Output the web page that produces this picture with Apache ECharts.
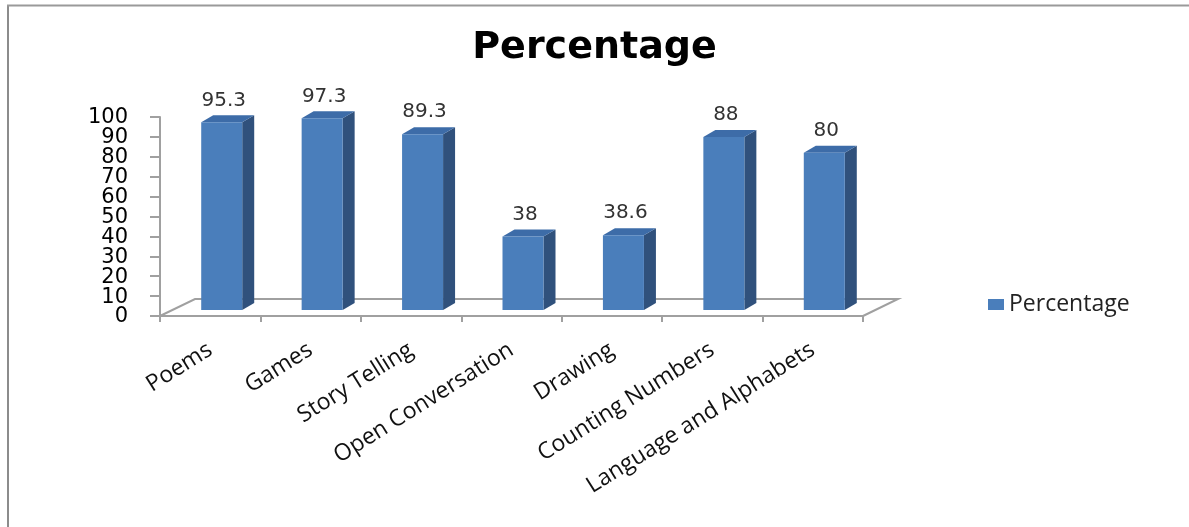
<!DOCTYPE html>
<html>
<head>
<meta charset="utf-8">
<script src="https://cdn.jsdelivr.net/npm/echarts@6/dist/echarts.min.js"></script>
<style>
  html, body { margin: 0; padding: 0; background: #fff; }
  #chart { width: 1189px; height: 527px; }
</style>
</head>
<body>
<div id="chart"></div>
<script>
// Activity categories and the share (%) reported for each
const categories = ['Poems', 'Games', 'Story Telling', 'Open Conversation', 'Drawing', 'Counting Numbers', 'Language and Alphabets'];
const percentages = [95.3, 97.3, 89.3, 38, 38.6, 88, 80];
const seriesName = 'Percentage';
const yTickValues = [0, 10, 20, 30, 40, 50, 60, 70, 80, 90, 100];
const yTicks = { min: 0, max: 100, interval: 10 };

const FRONT = '#4a7ebb', SIDE = '#30517c', TOP = '#3d6ca8';
const GRID_LINE = '#a0a0a0';
// depth of the 3D floor and of each column
const FLOOR_DX = 35, FLOOR_DY = -17;
const COL_DX = 12, COL_DY = -7;

const chart = echarts.init(document.getElementById('chart'));

// floor parallelogram, the vertical value axis line and its tightly stacked tick labels
function renderFloor(params, api) {
  if (params.dataIndex !== 0) return null;
  const band = api.size([1, 0])[0];
  const p0 = api.coord([0, yTicks.min]);
  const pN = api.coord([categories.length - 1, yTicks.min]);
  const pTop = api.coord([0, yTicks.max]);
  const left = p0[0] - band / 2, right = pN[0] + band / 2, y = p0[1];
  const children = [
    {
      type: 'polyline',
      shape: { points: [[left, y], [left + FLOOR_DX, y + FLOOR_DY], [right + FLOOR_DX, y + FLOOR_DY], [right, y]] },
      style: { stroke: GRID_LINE, lineWidth: 2, fill: null }
    },
    {
      type: 'line',
      shape: { x1: left, y1: y, x2: left, y2: pTop[1] },
      style: { stroke: GRID_LINE, lineWidth: 2 }
    }
  ];
  yTickValues.forEach(function (v) {
    const py = api.coord([0, v])[1];
    children.push({
      type: 'text',
      style: { text: String(v), x: left - 32, y: py + 1, align: 'right', verticalAlign: 'middle', fill: '#000', font: '21px "DejaVu Sans"' }
    });
  });
  return { type: 'group', children: children, silent: true };
}

function renderColumn(params, api) {
  const idx = api.value(0), val = api.value(1);
  const base = api.coord([idx, 0]);
  const top = api.coord([idx, val]);
  const x0 = base[0] - 9, w = 41;
  const yb = base[1] - 6, yt = top[1] - 4;
  const x1 = x0 + w;
  return {
    type: 'group',
    children: [
      { type: 'polygon', shape: { points: [[x1, yt], [x1 + COL_DX, yt + COL_DY], [x1 + COL_DX, yb + COL_DY], [x1, yb]] }, style: { fill: SIDE } },
      { type: 'polygon', shape: { points: [[x0, yt], [x0 + COL_DX, yt + COL_DY], [x1 + COL_DX, yt + COL_DY], [x1, yt]] }, style: { fill: TOP } },
      { type: 'rect', shape: { x: x0, y: yt, width: w, height: yb - yt }, style: { fill: FRONT } },
      { type: 'text', style: { text: String(val), x: x0 + w / 2 + 2, y: yt + COL_DY - 5, align: 'center', verticalAlign: 'bottom', fill: '#333', font: '20px "DejaVu Sans"' } }
    ]
  };
}

chart.setOption({
  backgroundColor: '#ffffff',
  animation: false,
  title: {
    text: 'Percentage',
    left: 'center',
    top: 24,
    textStyle: { fontFamily: 'DejaVu Sans', fontWeight: 'bold', fontSize: 38, color: '#000' }
  },
  legend: {
    data: [seriesName],
    orient: 'vertical',
    left: 983,
    top: 288,
    itemWidth: 16,
    itemHeight: 11,
    itemGap: 6,
    icon: 'rect',
    textStyle: { fontFamily: 'Open Sans', fontSize: 23, color: '#222' }
  },
  grid: { left: 160, right: 326, top: 117, bottom: 211 },
  xAxis: {
    type: 'category',
    data: categories,
    boundaryGap: true,
    axisLine: { lineStyle: { color: GRID_LINE, width: 2 } },
    axisTick: { show: true, length: 6, lineStyle: { color: GRID_LINE, width: 2 } },
    axisLabel: { rotate: 32, margin: 32, interval: 0, fontFamily: 'Open Sans', fontSize: 23, color: '#111' }
  },
  yAxis: {
    type: 'value',
    min: yTicks.min,
    max: yTicks.max,
    interval: yTicks.interval,
    splitLine: { show: false },
    axisLine: { show: true, lineStyle: { color: GRID_LINE, width: 2 } },
    axisTick: { show: true, length: 10, lineStyle: { color: GRID_LINE, width: 2 } },
    axisLabel: { show: false }
  },
  series: [
    {
      name: 'floor',
      type: 'custom',
      renderItem: renderFloor,
      data: [[0, 0]],
      clip: false,
      silent: true,
      z: 1
    },
    {
      name: seriesName,
      type: 'custom',
      renderItem: renderColumn,
      itemStyle: { color: FRONT },
      data: percentages.map((v, i) => [i, v]),
      clip: false,
      z: 2
    }
  ],
  graphic: [
    { type: 'line', shape: { x1: 8, y1: 5, x2: 8, y2: 527 }, style: { stroke: '#8c8c8c', lineWidth: 2 } },
    { type: 'line', shape: { x1: 7, y1: 5.5, x2: 1189, y2: 5.5 }, style: { stroke: '#9a9a9a', lineWidth: 2 } }
  ]
});
</script>
</body>
</html>
